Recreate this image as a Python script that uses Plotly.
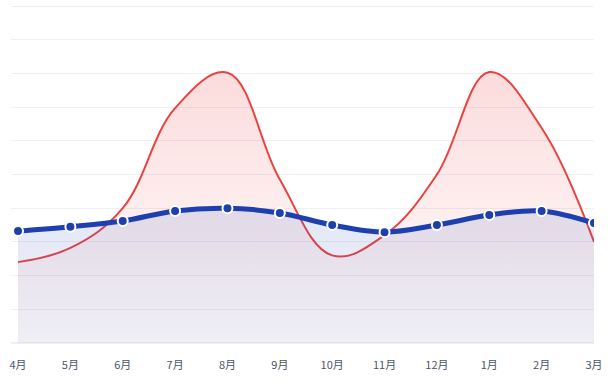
import plotly.graph_objects as go

months = ["4月", "5月", "6月", "7月", "8月", "9月", "10月", "11月", "12月", "1月", "2月", "3月"]
series_red = [2.40, 2.82, 4.0, 6.97, 8.02, 4.85, 2.6, 3.2, 5.0, 8.04, 6.38, 3.0]
series_blue = [3.32, 3.45, 3.62, 3.92, 4.0, 3.86, 3.5, 3.29, 3.5, 3.80, 3.92, 3.56]

x_idx = list(range(len(months)))

fig = go.Figure()

fig.add_trace(go.Scatter(
    x=x_idx, y=series_red, mode="lines",
    line=dict(color="#ea4141", width=2, shape="spline", smoothing=1.1),
    fill="tozeroy",
    fillgradient=dict(type="vertical", start=0, stop=8,
                      colorscale=[[0, "rgba(239,68,68,0.0)"], [1, "rgba(239,68,68,0.19)"]]),
    hoverinfo="skip", showlegend=False,
))

fig.add_trace(go.Scatter(
    x=x_idx, y=series_blue, mode="lines+markers",
    line=dict(color="#1e40af", width=5, shape="spline", smoothing=1),
    marker=dict(size=10, color="#1e40af", line=dict(color="white", width=2)),
    fill="tozeroy",
    fillgradient=dict(type="vertical", start=0, stop=4,
                      colorscale=[[0, "rgba(105,95,165,0.10)"], [1, "rgba(48,91,191,0.14)"]]),
    hoverinfo="skip", showlegend=False,
))

fig.update_layout(
    width=613, height=384,
    margin=dict(l=11, r=19, t=5, b=41),
    paper_bgcolor="white", plot_bgcolor="white",
    font=dict(family="Noto Sans CJK SC, Noto Sans, sans-serif", size=11, color="#4a5568"),
)
fig.update_xaxes(
    range=[-0.134, 11], tickmode="array", tickvals=x_idx, ticktext=months,
    showgrid=False, zeroline=False, showline=False, ticks="",
    ticklabelstandoff=14, fixedrange=True,
)
fig.update_yaxes(
    range=[0, 10.03], dtick=1, showgrid=True, gridcolor="#eef0f5", gridwidth=1,
    zeroline=True, zerolinecolor="#eef0f5", showticklabels=False, ticks="", fixedrange=True,
)

fig.write_html("out.html", config={"displayModeBar": False},
               post_script="document.body.style.margin='0';")
